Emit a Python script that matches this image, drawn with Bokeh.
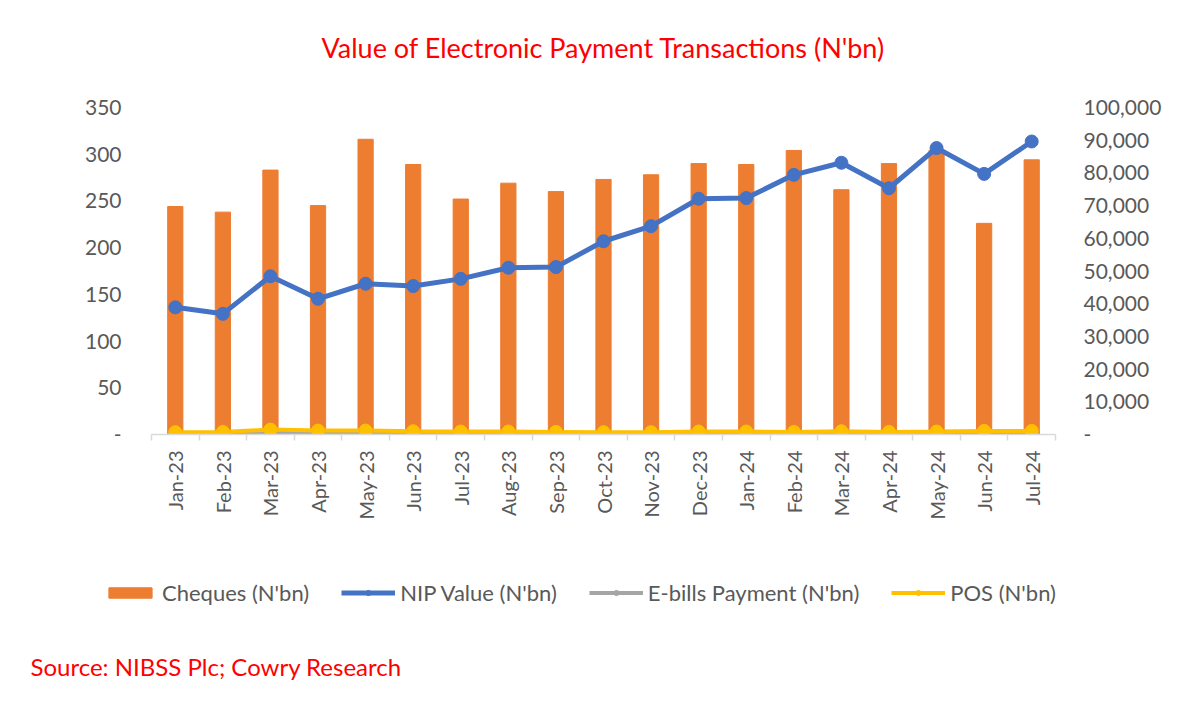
import math
from bokeh.plotting import figure
from bokeh.layouts import column
from bokeh.models import (Range1d, LinearAxis, FixedTicker, CustomJSTickFormatter,
                          Legend, LegendItem, Label, ColumnDataSource)
from bokeh.embed import file_html
from bokeh.resources import INLINE

months = ["Jan-23", "Feb-23", "Mar-23", "Apr-23", "May-23", "Jun-23", "Jul-23",
          "Aug-23", "Sep-23", "Oct-23", "Nov-23", "Dec-23", "Jan-24", "Feb-24",
          "Mar-24", "Apr-24", "May-24", "Jun-24", "Jul-24"]
cheques = [244, 238, 283, 245, 316, 289, 252, 269, 260, 273, 278, 290, 289, 304,
           262, 290, 304, 226, 294]
nip = [38900, 36900, 48400, 41500, 46100, 45400, 47600, 51000, 51200, 59100,
       63700, 72100, 72300, 79400, 83100, 75300, 87600, 79700, 89600]
ebills = [300, 350, 700, 500, 450, 400, 350, 350, 300, 300, 300, 400, 400, 350,
          450, 350, 400, 450, 450]
pos = [700, 800, 1500, 1200, 1200, 1000, 900, 900, 800, 700, 700, 900, 900, 800,
       1000, 800, 900, 1100, 1100]
series_names = ["Cheques (N'bn)", "NIP Value (N'bn)", "E-bills Payment (N'bn)", "POS (N'bn)"]
title_text = "Value of Electronic Payment Transactions (N'bn)"
source_text = "Source: NIBSS Plc; Cowry Research"

FONT = "Lato"
GREY = "#595959"
ORANGE, BLUE, SILVER, GOLD = "#ED7D31", "#4472C4", "#A5A5A5", "#FFC000"

x = [i + 0.5 for i in range(len(months))]
src = ColumnDataSource(dict(x=x, cheques=cheques, nip=nip, ebills=ebills, pos=pos))

W = 1195
H0, H1, H2 = 70, 460, 167
TOP, LEFT, FRAME_W, FRAME_H = 37, 151, 904, 327


def blank_fig(height):
    g = figure(width=W, height=height, output_backend="svg", toolbar_location=None,
               x_range=Range1d(0, 1), y_range=Range1d(0, 1),
               x_axis_type=None, y_axis_type=None,
               min_border_left=0, min_border_right=0, min_border_top=0, min_border_bottom=0)
    g.outline_line_color = None
    g.xgrid.visible = False
    g.ygrid.visible = False
    return g


# header with the title
t = blank_fig(H0)
t.add_layout(Label(x=LEFT + FRAME_W / 2, y=H0 - 47, x_units="screen", y_units="screen",
                   text=title_text, text_color="#FF0000", text_font=FONT,
                   text_font_size="27px", text_align="center", text_baseline="middle"))

# main chart
p = figure(width=W, height=H1, output_backend="svg", toolbar_location=None,
           x_range=Range1d(0, len(months)), y_range=Range1d(0, 350),
           x_axis_type=None, y_axis_type=None,
           min_border_left=LEFT, min_border_right=W - LEFT - FRAME_W, min_border_top=TOP,
           min_border_bottom=H1 - TOP - FRAME_H)
p.extra_y_ranges = {"r": Range1d(0, 100000)}
p.outline_line_color = None
p.xgrid.visible = False
p.ygrid.visible = False
p.title.standoff = 0

ax_l = LinearAxis(ticker=FixedTicker(ticks=[0, 50, 100, 150, 200, 250, 300, 350]),
                  formatter=CustomJSTickFormatter(code="return tick == 0 ? '-' : tick.toString();"))
ax_r = LinearAxis(y_range_name="r",
                  ticker=FixedTicker(ticks=list(range(0, 100001, 10000))),
                  formatter=CustomJSTickFormatter(code="return tick == 0 ? '-' : tick.toLocaleString('en-US');"))
for ax in (ax_l, ax_r):
    ax.axis_line_color = None
    ax.major_tick_line_color = None
    ax.minor_tick_line_color = None
    ax.major_label_text_color = GREY
    ax.major_label_text_font = FONT
    ax.major_label_text_font_size = "21px"
ax_l.major_label_standoff = 24
ax_r.major_label_standoff = 22
p.add_layout(ax_l, "left")
p.add_layout(ax_r, "right")

ax_b = LinearAxis(ticker=FixedTicker(ticks=x, minor_ticks=list(range(len(months) + 1))),
                  formatter=CustomJSTickFormatter(args=dict(labels=months),
                                                  code="return labels[Math.floor(tick)];"))
ax_b.axis_line_color = "#D9D9D9"
ax_b.axis_line_width = 1.5
ax_b.major_tick_line_color = None
ax_b.minor_tick_line_color = "#D9D9D9"
ax_b.minor_tick_line_width = 1.5
ax_b.minor_tick_in = 0
ax_b.minor_tick_out = 6
ax_b.major_label_orientation = math.pi / 2
ax_b.major_label_text_color = GREY
ax_b.major_label_text_font = FONT
ax_b.major_label_text_font_size = "20px"
ax_b.major_label_standoff = 10
p.add_layout(ax_b, "below")

p.vbar(x="x", top="cheques", width=0.32, source=src, color=ORANGE)
p.line("x", "nip", source=src, y_range_name="r", color=BLUE, line_width=5)
p.scatter("x", "nip", source=src, y_range_name="r", color=BLUE, size=13)
p.line("x", "ebills", source=src, y_range_name="r", color=SILVER, line_width=4)
p.scatter("x", "ebills", source=src, y_range_name="r", color=SILVER, size=13)
p.line("x", "pos", source=src, y_range_name="r", color=GOLD, line_width=4)
p.scatter("x", "pos", source=src, y_range_name="r", color=GOLD, size=13)

# footer: legend and source note
f = blank_fig(H2)
for fig in (t, p, f):
    if "frame_align" in fig.properties():
        fig.frame_align = False

# legend proxies (hidden renderers, same styles as the chart's series)
k_bar = f.vbar(x="x", top="cheques", width=0.32, source=src, color=ORANGE, visible=False)
k_nip = [f.line("x", "nip", source=src, color=BLUE, line_width=5, visible=False),
         f.scatter("x", "nip", source=src, color=BLUE, size=13, visible=False)]
k_eb = [f.line("x", "ebills", source=src, color=SILVER, line_width=4, visible=False),
        f.scatter("x", "ebills", source=src, color=SILVER, size=13, visible=False)]
k_pos = [f.line("x", "pos", source=src, color=GOLD, line_width=4, visible=False),
         f.scatter("x", "pos", source=src, color=GOLD, size=13, visible=False)]

legend = Legend(items=[
    LegendItem(label=series_names[0], renderers=[k_bar]),
    LegendItem(label=series_names[1], renderers=k_nip),
    LegendItem(label=series_names[2], renderers=k_eb),
    LegendItem(label=series_names[3], renderers=k_pos),
], orientation="horizontal", location=(103, 91))
legend.label_text_font = FONT
legend.label_text_font_size = "22px"
legend.label_text_color = GREY
legend.glyph_width = 54
legend.glyph_height = 13
legend.label_standoff = 5
legend.spacing = 32
legend.padding = 0
legend.margin = 0
legend.border_line_color = None
legend.background_fill_alpha = 0
legend.inactive_fill_alpha = 0
f.add_layout(legend, "center")

f.add_layout(Label(x=30, y=31, x_units="screen", y_units="screen",
                   text=source_text, text_color="#FF0000",
                   text_font=FONT, text_font_size="24px", text_baseline="middle"))

open("out.html", "w").write(file_html(column(t, p, f, spacing=0), INLINE))
